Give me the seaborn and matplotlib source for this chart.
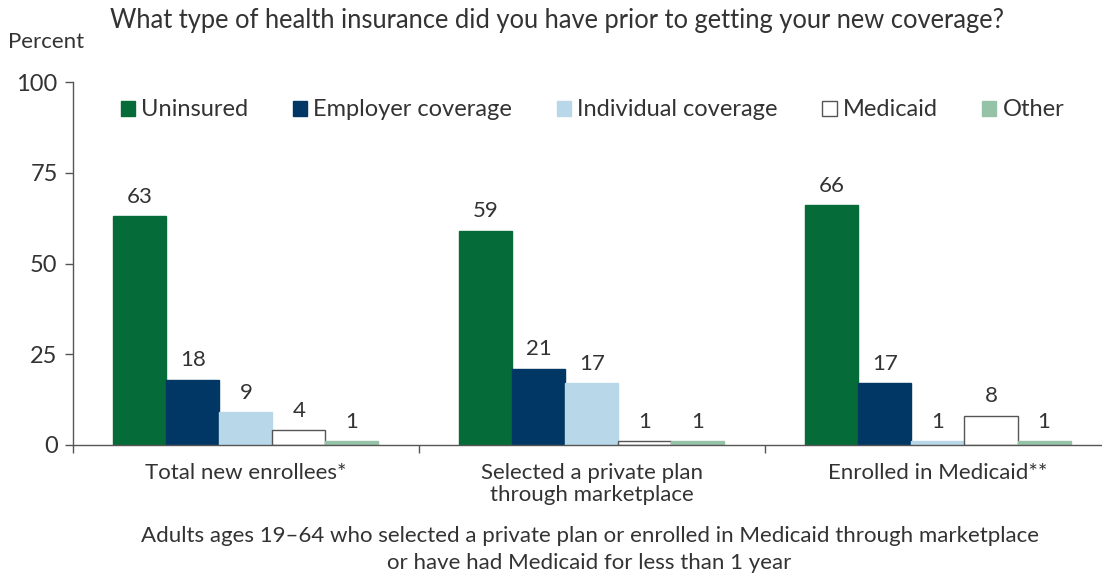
import matplotlib
matplotlib.use("Agg")
import matplotlib.pyplot as plt
import seaborn as sns
import pandas as pd
from matplotlib.patches import Patch

categories = ["Total new enrollees*", "Selected a private plan\nthrough marketplace", "Enrolled in Medicaid**"]
series = ["Uninsured", "Employer coverage", "Individual coverage", "Medicaid", "Other"]
uninsured = [63, 59, 66]
employer = [18, 21, 17]
individual = [9, 17, 1]
medicaid = [4, 1, 8]
other = [1, 1, 1]
colors = ["#056b38", "#003764", "#b8d8ea", "#ffffff", "#96c3a8"]
edges = ["#056b38", "#003764", "#b8d8ea", "#555555", "#96c3a8"]

sns.set_style("white")
plt.rcParams["font.family"] = ["Lato", "DejaVu Sans"]
txt = "#333333"

rows = []
for s, vals in zip(series, [uninsured, employer, individual, medicaid, other]):
    for c, v in zip(categories, vals):
        rows.append({"cat": c, "type": s, "val": v})
df = pd.DataFrame(rows)

fig = plt.figure(figsize=(11.02, 5.77), dpi=100)
ax = fig.add_axes([0.0662, 0.2288, 0.9338, 0.629])
sns.barplot(data=df, x="cat", y="val", hue="type", order=categories, hue_order=series,
            palette=colors, width=0.766, gap=0, ax=ax, legend=False, saturation=1)

for cont, ec in zip(ax.containers, edges):
    for p in cont:
        p.set_edgecolor(ec)
        p.set_linewidth(1.0)
    ax.bar_label(cont, padding=7, fontsize=16, color=txt)

ax.set_ylim(0, 100)
ax.set_xlim(-0.5, 2.474)
ax.set_yticks([0, 25, 50, 75, 100])
ax.tick_params(axis="y", length=6, width=1, color="#555555", labelsize=17, labelcolor=txt, pad=5, left=True)
ax.set_xticks([0, 1, 2])
ax.set_xticklabels(categories, fontsize=16, color=txt, linespacing=1.15)
ax.tick_params(axis="x", length=0, pad=13)
ax.set_xticks([-0.5, 0.5, 1.5], minor=True)
ax.tick_params(axis="x", which="minor", length=6, width=1, color="#555555", bottom=True)
ax.set_xlabel("")
ax.set_ylabel("")
for sp in ["top", "right"]:
    ax.spines[sp].set_visible(False)
for sp in ["left", "bottom"]:
    ax.spines[sp].set_color("#555555")
    ax.spines[sp].set_linewidth(1.0)

handles = [Patch(facecolor=c, edgecolor=e, linewidth=1) for c, e in zip(colors, edges)]
ax.legend(handles, series, loc="center", bbox_to_anchor=(0.505, 0.923), ncol=5, frameon=False,
          fontsize=17, handlelength=0.6, handleheight=0.6, handletextpad=0.25, columnspacing=1.9,
          labelcolor=txt, borderpad=0)

fig.text(0.1, 0.965, "What type of health insurance did you have prior to getting your new coverage?",
         fontsize=18.4, color=txt, ha="left", va="center")
fig.text(0.007, 0.927, "Percent", fontsize=16, color=txt, ha="left", va="center")
fig.text(0.535, 0.048, "Adults ages 19–64 who selected a private plan or enrolled in Medicaid through marketplace\nor have had Medicaid for less than 1 year",
         fontsize=16, color=txt, ha="center", va="center", linespacing=1.4)

fig.savefig("out.png", dpi=100)
